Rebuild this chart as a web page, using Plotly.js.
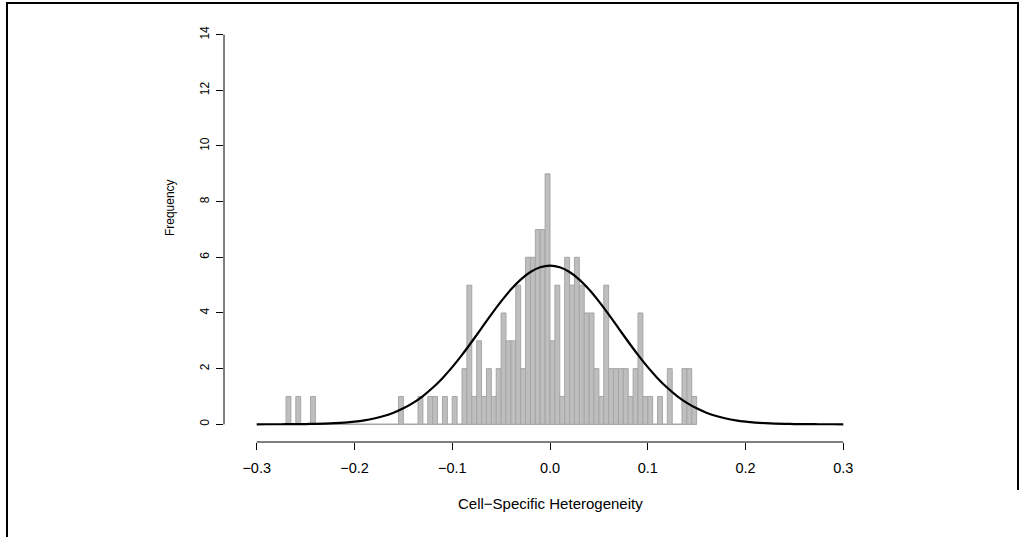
<!DOCTYPE html>
<html>
<head>
<meta charset="utf-8">
<script src="https://cdn.plot.ly/plotly-3.0.1.min.js"></script>
<style>
  html, body { margin: 0; padding: 0; background: #fff; }
  #wrap { position: relative; width: 1021px; height: 537px; overflow: hidden; }
  #chart { position: absolute; left: 0; top: 0; width: 1021px; height: 537px; }
  .frame { position: absolute; background: #000; }
</style>
</head>
<body>
<div id="wrap">
  <div id="chart"></div>
  <div class="frame" style="left:6px; top:2px; width:1013px; height:2px;"></div>
  <div class="frame" style="left:6px; top:2px; width:2px; height:540px;"></div>
  <div class="frame" style="left:1017px; top:2px; width:2px; height:488px;"></div>
</div>
<script>
// ---- data ----
const binStart = -0.27;   // left edge of first histogram bin
const binWidth = 0.005;   // histogram bin width
const counts = [
  1,0,1,0,0,1,0,0,0,0,
  0,0,0,0,0,0,0,0,0,0,
  0,0,0,1,0,0,0,1,0,1,
  1,0,1,0,1,0,2,5,1,3,
  1,2,1,2,4,3,3,5,2,6,
  6,7,7,9,3,5,1,6,5,6,
  5,4,4,2,1,5,2,2,2,2,
  1,2,4,1,1,0,1,0,2,0,
  0,2,2,1
];
const curveX = [-0.30,-0.29,-0.28,-0.27,-0.26,-0.25,-0.24,-0.23,-0.22,-0.21,
  -0.20,-0.19,-0.18,-0.17,-0.16,-0.15,-0.14,-0.13,-0.12,-0.11,
  -0.10,-0.09,-0.08,-0.07,-0.06,-0.05,-0.04,-0.03,-0.02,-0.01,
  0.00,0.01,0.02,0.03,0.04,0.05,0.06,0.07,0.08,0.09,
  0.10,0.11,0.12,0.13,0.14,0.15,0.16,0.17,0.18,0.19,
  0.20,0.21,0.22,0.23,0.24,0.25,0.26,0.27,0.28,0.29,0.30];
const curveY = [0.0006,0.0011,0.0019,0.0034,0.0058,0.0097,0.0160,0.0258,0.0408,0.0633,
  0.0962,0.143,0.209,0.299,0.418,0.574,0.771,1.016,1.311,1.658,
  2.054,2.494,2.966,3.457,3.947,4.416,4.841,5.199,5.471,5.641,
  5.699,5.641,5.471,5.199,4.841,4.416,3.947,3.457,2.966,2.494,
  2.054,1.658,1.311,1.016,0.771,0.574,0.418,0.299,0.209,0.143,
  0.0962,0.0633,0.0408,0.0258,0.0160,0.0097,0.0058,0.0034,0.0019,0.0011,0.0006];
const xTickVals = [-0.3,-0.2,-0.1,0.0,0.1,0.2,0.3];
const xTickText = ['\u22120.3','\u22120.2','\u22120.1','0.0','0.1','0.2','0.3'];
const yTickVals = [0,2,4,6,8,10,12,14];
const yTickText = ['0','2','4','6','8','10','12','14'];
const xTitle = 'Cell\u2212Specific Heterogeneity';
const yTitle = 'Frequency';

// ---- build ----
const centers = counts.map((c, i) => binStart + binWidth * (i + 0.5));
const binEnd = binStart + binWidth * counts.length;

const bars = {
  type: 'bar', x: centers, y: counts, width: binWidth,
  marker: { color: '#bebebe', line: { color: '#a6a6a6', width: 1 } },
  hoverinfo: 'skip'
};
const curve = {
  type: 'scatter', mode: 'lines', x: curveX, y: curveY,
  line: { color: '#000', width: 2.2, shape: 'spline' },
  hoverinfo: 'skip'
};

const font = 'Liberation Sans, Arial, Helvetica, sans-serif';
const layout = {
  width: 1021, height: 537,
  margin: { l: 224, r: 145, t: 19, b: 95 },
  paper_bgcolor: '#fff', plot_bgcolor: '#fff',
  showlegend: false,
  bargap: 0,
  xaxis: {
    range: [-0.33345, 0.33345], showgrid: false, zeroline: false, showline: false,
    tickmode: 'array', tickvals: xTickVals, ticktext: xTickText,
    ticks: 'outside', ticklen: 7, tickwidth: 1, tickcolor: '#000',
    ticklabelstandoff: 6,
    tickfont: { family: font, size: 14.5, color: '#000' }
  },
  yaxis: {
    range: [-0.636, 14.563], showgrid: false, zeroline: false, showline: false,
    tickmode: 'array', tickvals: yTickVals, ticktext: yTickText,
    ticks: 'outside', ticklen: 7, tickwidth: 1, tickcolor: '#000',
    tickangle: -90, ticklabelstandoff: 2,
    tickfont: { family: font, size: 12, color: '#000' }
  },
  shapes: [
    { type: 'line', xref: 'x', yref: 'paper', x0: xTickVals[0], x1: xTickVals[xTickVals.length-1], y0: 0, y1: 0,
      line: { color: '#000', width: 1 } },
    { type: 'line', xref: 'paper', yref: 'y', x0: 0, x1: 0, y0: yTickVals[0], y1: yTickVals[yTickVals.length-1],
      line: { color: '#000', width: 1 } },
    { type: 'line', xref: 'x', yref: 'y', x0: binStart, x1: binEnd, y0: 0, y1: 0,
      line: { color: '#a6a6a6', width: 1 }, layer: 'below' }
  ],
  annotations: [
    { text: xTitle, xref: 'paper', yref: 'paper', x: 0.5, y: 0, yshift: -72,
      showarrow: false, font: { family: font, size: 15, color: '#000' } },
    { text: yTitle, xref: 'paper', yref: 'paper', x: 0, y: 0.553, xshift: -63,
      textangle: -90, showarrow: false, font: { family: font, size: 12, color: '#000' } }
  ]
};

Plotly.newPlot('chart', [bars, curve], layout, { displayModeBar: false, staticPlot: true });
</script>
</body>
</html>
